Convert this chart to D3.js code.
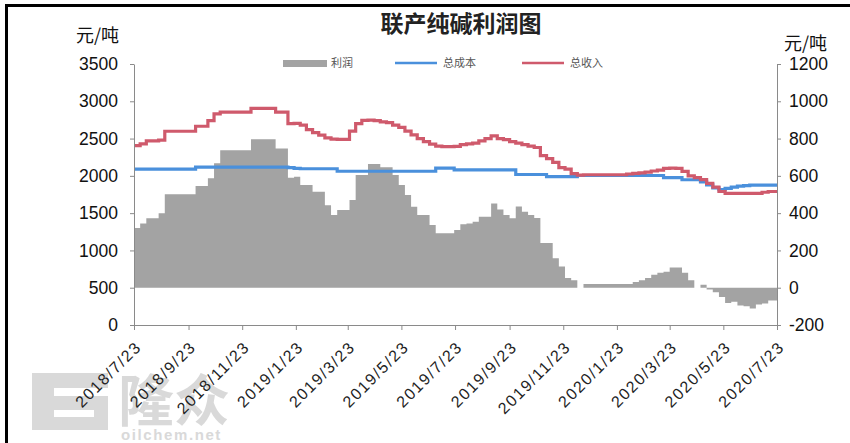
<!DOCTYPE html>
<html>
<head>
<meta charset="utf-8">
<script src="https://cdn.jsdelivr.net/npm/d3@7"></script>
<style>
  body { margin: 0; background: #fff; }
  svg { display: block; }
</style>
</head>
<body>
<svg id="chart" width="850" height="443"></svg>
<script>
// Weekly series for the co-production soda ash plant, starting 2018/7/23
const seriesStart = "2018/7/23";
const seriesEnd = "2020/7/23";

// 利润 (profit, right axis), 元/吨
const profit = [
  320, 345, 372, 372, 400, 501, 501, 501, 501, 501,
  545, 545, 587, 667, 738, 738, 738, 738, 738, 796,
  796, 796, 796, 747, 747, 590, 595, 551, 551, 515,
  515, 443, 390, 417, 417, 470, 604, 604, 663, 663,
  646, 646, 604, 551, 497, 434, 390, 390, 336, 292,
  292, 292, 309, 340, 345, 354, 381, 381, 452, 420,
  390, 372, 436, 408, 390, 374, 240, 240, 158, 114,
  52, 40, 0, 20, 20, 20, 20, 20, 20, 20,
  20, 30, 40, 52, 70, 80, 85, 108, 108, 80,
  40, 0, 16, -10, -24, -50, -82, -75, -95, -100,
  -112, -90, -85, -68, -68
];

// 总成本 (total cost, left axis), 元/吨
const cost = [
  2090, 2090, 2090, 2090, 2090, 2090, 2090, 2090, 2090, 2090,
  2118, 2118, 2118, 2118, 2118, 2118, 2118, 2118, 2118, 2118,
  2118, 2118, 2118, 2118, 2118, 2110, 2100, 2095, 2095, 2095,
  2095, 2095, 2095, 2062, 2062, 2062, 2062, 2062, 2062, 2062,
  2062, 2062, 2062, 2062, 2062, 2062, 2062, 2062, 2062, 2105,
  2105, 2105, 2080, 2080, 2080, 2080, 2080, 2080, 2080, 2080,
  2080, 2080, 2018, 2018, 2018, 2018, 2018, 1990, 1990, 1990,
  1990, 1990, 2005, 2005, 2005, 2005, 2005, 2005, 2005, 2005,
  2005, 2005, 2005, 2005, 2005, 2005, 1975, 1975, 1975, 1948,
  1948, 1948, 1920, 1880, 1840, 1815, 1832, 1850, 1863, 1870,
  1877, 1877, 1877, 1877, 1877
];

// 总收入 (total revenue, left axis), 元/吨
const revenue = [
  2405, 2430, 2468, 2468, 2480, 2598, 2598, 2598, 2598, 2598,
  2665, 2665, 2740, 2830, 2855, 2855, 2855, 2855, 2855, 2905,
  2905, 2905, 2905, 2855, 2855, 2700, 2703, 2680, 2620, 2580,
  2545, 2510, 2492, 2490, 2490, 2600, 2700, 2745, 2748, 2740,
  2725, 2715, 2680, 2650, 2600, 2550, 2500, 2460, 2425, 2400,
  2391, 2391, 2395, 2420, 2430, 2440, 2470, 2500, 2535, 2500,
  2485, 2460, 2440, 2420, 2400, 2380, 2270, 2230, 2180, 2110,
  2090, 2030, 2011, 2015, 2015, 2015, 2015, 2015, 2015, 2015,
  2025, 2033, 2040, 2050, 2065, 2078, 2100, 2105, 2100, 2060,
  2000, 1975, 1950, 1900, 1850, 1790, 1765, 1765, 1765, 1765,
  1765, 1765, 1780, 1790, 1790
];

const leftTicks = [0, 500, 1000, 1500, 2000, 2500, 3000, 3500];
const rightTicks = [-200, 0, 200, 400, 600, 800, 1000, 1200];
const dateTicks = [
  "2018/7/23", "2018/9/23", "2018/11/23", "2019/1/23", "2019/3/23",
  "2019/5/23", "2019/7/23", "2019/9/23", "2019/11/23", "2020/1/23",
  "2020/3/23", "2020/5/23", "2020/7/23"
];
const legendItems = ["利润", "总成本", "总收入"];
const titleText = "联产纯碱利润图";
const unitText = "元/吨";

const parse = d3.timeParse("%Y/%m/%d");
const t0 = parse(seriesStart), t1 = parse(seriesEnd);
const weekDates = profit.map((_, i) => d3.timeDay.offset(t0, 7 * i));

const svg = d3.select("#chart");
const numFont = "'Liberation Sans', Arial, sans-serif";
const cjkFont = "'Noto Sans CJK SC', sans-serif";
const axisColor = "#8a8a8a";
const colors = { profit: "#a3a3a3", cost: "#4a90dc", revenue: "#cf5a6c" };

const x = d3.scaleTime().domain([t0, t1]).range([134, 777]);
const yL = d3.scaleLinear().domain([0, 3500]).range([325, 64]);
const yR = d3.scaleLinear().domain([-200, 1200]).range([325, 64]);

// step series, held until the next weekly reading; the last one runs to the end date
function steps(values) {
  const pts = values.map((v, i) => ({ date: weekDates[i], v }));
  pts.push({ date: t1, v: values[values.length - 1] });
  return pts;
}

// frame (top and left edges)
svg.append("line").attr("x1", 6.5).attr("x2", 850).attr("y1", 5.5).attr("y2", 5.5)
  .attr("stroke", "#000").attr("stroke-width", 3);
svg.append("line").attr("x1", 6.5).attr("x2", 6.5).attr("y1", 4).attr("y2", 443)
  .attr("stroke", "#000").attr("stroke-width", 3);

// watermark
const wm = svg.append("g").attr("fill", "#d0d0d0").attr("opacity", 0.8);
wm.append("path")
  .attr("d", "M32,373 H108 V388 H54 V396 H108 V430 H32 Z M54,410 V417 H94 V410 Z")
  .attr("fill-rule", "evenodd");
wm.append("text").attr("x", 118).attr("y", 421)
  .attr("font-family", cjkFont).attr("font-weight", 700).attr("font-size", 56)
  .text("隆众");
wm.append("text").attr("x", 121).attr("y", 440)
  .attr("font-family", numFont).attr("font-weight", 700).attr("font-size", 15)
  .attr("letter-spacing", 1.6).text("oilchem.net");

// profit area on the right axis
svg.append("path")
  .datum(steps(profit))
  .attr("fill", colors.profit)
  .attr("d", d3.area().curve(d3.curveStepAfter)
    .x(d => x(d.date)).y0(yR(0)).y1(d => yR(d.v)));

// cost and revenue lines on the left axis
const line = d3.line().curve(d3.curveStepAfter).x(d => x(d.date)).y(d => yL(d.v));
svg.append("path").datum(steps(cost))
  .attr("fill", "none").attr("stroke", colors.cost).attr("stroke-width", 3.2)
  .attr("d", line);
svg.append("path").datum(steps(revenue))
  .attr("fill", "none").attr("stroke", colors.revenue).attr("stroke-width", 3.2)
  .attr("d", line);

function styleAxis(g) {
  g.select(".domain").attr("stroke", axisColor);
  g.selectAll(".tick line").attr("stroke", axisColor);
  g.selectAll(".tick text").attr("fill", "#111")
    .attr("font-family", numFont);
}

// left axis
svg.append("g").attr("transform", "translate(134,0)")
  .call(d3.axisLeft(yL).tickValues(leftTicks).tickSize(4).tickSizeOuter(0).tickPadding(12)
    .tickFormat(d3.format("d")))
  .call(styleAxis)
  .call(g => g.selectAll(".tick text").attr("font-size", 17.5));

// right axis
svg.append("g").attr("transform", "translate(777,0)")
  .call(d3.axisRight(yR).tickValues(rightTicks).tickSize(4).tickSizeOuter(0).tickPadding(8)
    .tickFormat(d => d < 0 ? "-" + Math.abs(d) : String(d)))
  .call(styleAxis)
  .call(g => g.selectAll(".tick text").attr("font-size", 17.5));

// bottom axis with rotated dates
svg.append("g").attr("transform", "translate(0,325)")
  .call(d3.axisBottom(x).tickValues(dateTicks.map(parse)).tickSize(5).tickSizeOuter(0)
    .tickFormat(d3.timeFormat("%Y/%-m/%-d")))
  .call(styleAxis)
  .call(g => g.selectAll(".tick text")
    .attr("font-size", 16)
    .attr("letter-spacing", 1.6)
    .attr("fill", "#222")
    .attr("text-anchor", "end")
    .attr("x", 0).attr("y", 0).attr("dy", "0.35em")
    .attr("transform", "translate(4,19) rotate(-45)"));

// title and unit labels
svg.append("text").attr("x", 461).attr("y", 32).attr("text-anchor", "middle")
  .attr("font-family", cjkFont).attr("font-weight", 700).attr("font-size", 23)
  .attr("fill", "#222").text(titleText);
svg.append("text").attr("x", 76).attr("y", 42)
  .attr("font-family", cjkFont).attr("font-size", 18).attr("fill", "#111").text(unitText);
svg.append("text").attr("x", 784).attr("y", 50)
  .attr("font-family", cjkFont).attr("font-size", 18).attr("fill", "#111").text(unitText);

// legend
const legend = svg.append("g").attr("font-family", cjkFont).attr("font-size", 11).attr("fill", "#555");
const legendX = [283, 395, 522];
const legendColors = [colors.profit, colors.cost, colors.revenue];
legendItems.forEach((name, i) => {
  const g = legend.append("g").attr("transform", `translate(${legendX[i]},63)`);
  if (i === 0) {
    g.append("rect").attr("x", 0).attr("y", -3).attr("width", 44).attr("height", 7)
      .attr("fill", legendColors[i]);
  } else {
    g.append("line").attr("x1", 0).attr("x2", 42).attr("y1", 0).attr("y2", 0)
      .attr("stroke", legendColors[i]).attr("stroke-width", 2.5);
  }
  g.append("text").attr("x", 48).attr("y", 4).text(name);
});
</script>
</body>
</html>
